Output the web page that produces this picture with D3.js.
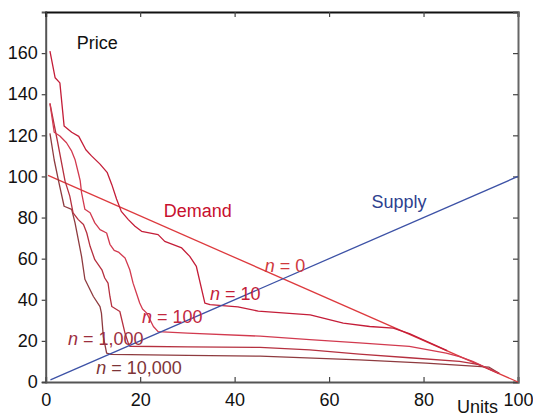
<!DOCTYPE html>
<html>
<head>
<meta charset="utf-8">
<script src="https://cdn.jsdelivr.net/npm/d3@7"></script>
<style>
  body { margin: 0; background: #fff; }
  svg { display: block; font-family: "Liberation Sans", Arial, sans-serif; }
</style>
</head>
<body>
<svg id="chart" width="533" height="416"></svg>
<script>
// axis ticks
var x_ticks = [0, 20, 40, 60, 80, 100];
var y_ticks = [0, 20, 40, 60, 80, 100, 120, 140, 160];

// series (units, price)
var supply = [[1, 1], [100, 100]];
var demand_n0 = [[0.5, 100.5], [100, 0]];
var demand_n10 = [[0.9, 161], [2, 148], [3, 145.5], [3.9, 124.5], [5.5, 121.5], [7, 119.5], [8.5, 113],
  [9.7, 110], [11.5, 106], [13, 102], [14, 96], [15, 89], [16, 83], [17.5, 79], [18.9, 75.8], [20.3, 73.3],
  [23.8, 71.7], [25.2, 68.4], [28.8, 65.2], [30.5, 61.1], [31.9, 56.2], [33.7, 38.4], [34.8, 37.6],
  [40.7, 36.5], [45, 34.5], [56, 32.7], [63, 28.6], [68.6, 27], [73.6, 26.2], [77, 23.5], [85, 15.3]];
var demand_n100 = [[0.9, 135.5], [1.8, 121.5], [3, 119.7], [4.4, 116.4], [5.5, 112.3], [6.2, 108.3],
  [6.9, 101.8], [7.3, 98], [7.6, 92], [8.3, 84], [9.4, 82.3], [10.4, 77.4], [11.5, 74.1], [12.9, 72.5],
  [13.6, 67], [14.5, 64], [15.4, 63.2], [16.8, 60.3], [17.8, 54.6], [18.5, 48.1], [19.2, 43.3],
  [19.9, 38.4], [20.5, 35.5], [21.4, 33.5], [22.8, 27], [23.8, 24.5], [30, 23.8], [45.4, 22.3],
  [55.9, 20.6], [66.4, 19], [77, 17.3], [84.8, 14], [87.6, 12.3], [90.4, 10], [93, 7.3], [96, 4.2]];
var demand_n1000 = [[0.9, 135.5], [2.5, 117], [4.1, 97.7], [5.1, 90.4], [5.8, 82.3], [6.9, 79], [8, 76.6],
  [8.7, 72.5], [9.4, 66], [10.4, 59.5], [11.9, 54.6], [12.5, 50.6], [13.2, 48.1], [13.6, 41.6],
  [14, 36.7], [15.7, 34.3], [16.8, 23.7], [17.5, 18.8], [17.8, 17.4], [30, 17.1], [45.4, 16.8],
  [55.9, 15.6], [66.4, 13.6], [77, 11.8], [87.6, 10], [91.8, 8.4], [96, 4.2]];
var demand_n10000 = [[0.9, 121], [1.8, 108], [2.8, 97], [3.9, 85.5], [5.5, 84], [6.2, 77.5], [7.6, 61],
  [8.3, 50], [10.1, 41.6], [11.5, 36.7], [11.8, 33.5], [12.2, 22.1], [12.9, 14], [13.8, 13.4],
  [30, 13], [45.4, 12.6], [66.4, 10.8], [80.5, 9.2], [93.9, 7.2], [96, 4.2]];

var series = [
  {name: 'n0', pts: demand_n0, color: '#dd3a3e'},
  {name: 'n10000', pts: demand_n10000, color: '#8e3b3f'},
  {name: 'n1000', pts: demand_n1000, color: '#b5303f'},
  {name: 'n100', pts: demand_n100, color: '#d23a4f'},
  {name: 'n10', pts: demand_n10, color: '#c41d38'},
  {name: 'supply', pts: supply, color: '#3d52a6'}
];

var labels = [
  {n: null, text: 'Price', x: 6.6, y: 162, color: '#111'},
  {n: null, text: 'Demand', x: 25, y: 80.5, color: '#c8102e'},
  {n: null, text: 'Supply', x: 69, y: 84.5, color: '#2e3f8f'},
  {n: 'n', text: ' = 0', x: 46.4, y: 53.3, color: '#d0393d'},
  {n: 'n', text: ' = 10', x: 34.8, y: 40, color: '#c41d38'},
  {n: 'n', text: ' = 100', x: 20.4, y: 28.5, color: '#c2283f'},
  {n: 'n', text: ' = 1,000', x: 4.7, y: 18, color: '#9c2f3e'},
  {n: 'n', text: ' = 10,000', x: 10.7, y: 4, color: '#7d3437'}
];

var svg = d3.select('#chart');
var mLeft = 45.7, mRight = 518, mTop = 12, mBottom = 382;

var x = d3.scaleLinear().domain([0, 100]).range([mLeft, mRight]);
var y = d3.scaleLinear().domain([0, 180]).range([mBottom, mTop]);

// frame and ticks
svg.append('g')
  .attr('transform', 'translate(0,' + mBottom + ')')
  .call(d3.axisBottom(x).tickValues(x_ticks).tickSize(-5).tickPadding(11))
  .call(g => g.select('.domain').attr('stroke', '#555').attr('stroke-width', 2));
svg.append('g')
  .attr('transform', 'translate(' + mLeft + ',0)')
  .call(d3.axisLeft(y).tickValues(y_ticks).tickSize(4).tickPadding(4))
  .call(g => g.select('.domain').attr('stroke', '#555').attr('stroke-width', 2));
svg.append('g')
  .attr('transform', 'translate(0,' + mTop + ')')
  .call(d3.axisTop(x).tickValues(x_ticks).tickSize(-5).tickFormat(''))
  .call(g => g.select('.domain').attr('stroke', '#111').attr('stroke-width', 2));
svg.append('g')
  .attr('transform', 'translate(' + mRight + ',0)')
  .call(d3.axisRight(y).tickValues(y_ticks.concat([180])).tickSize(-5).tickFormat(''))
  .call(g => g.select('.domain').attr('stroke', '#666').attr('stroke-width', 2));

svg.selectAll('.tick line').attr('stroke', '#444').attr('stroke-width', 1.2);
svg.selectAll('.tick text').attr('font-size', 18).attr('fill', '#111')
  .attr('font-family', '"Liberation Sans", Arial, sans-serif');

// curves
var line = d3.line().x(d => x(d[0])).y(d => y(d[1]));
svg.append('g').selectAll('path')
  .data(series)
  .enter()
  .append('path')
  .attr('d', d => line(d.pts))
  .attr('fill', 'none')
  .attr('stroke', d => d.color)
  .attr('stroke-width', 1.3)
  .attr('stroke-linejoin', 'round');

// text labels
var txt = svg.append('g').selectAll('text')
  .data(labels)
  .enter()
  .append('text')
  .attr('x', d => x(d.x))
  .attr('y', d => y(d.y))
  .attr('font-size', 18)
  .attr('fill', d => d.color);
txt.filter(d => d.n).append('tspan').attr('font-style', 'italic').text(d => d.n);
txt.append('tspan').text(d => d.text);

svg.append('text')
  .attr('x', 457).attr('y', 413)
  .attr('font-size', 18).attr('fill', '#111')
  .text('Units');
</script>
</body>
</html>
